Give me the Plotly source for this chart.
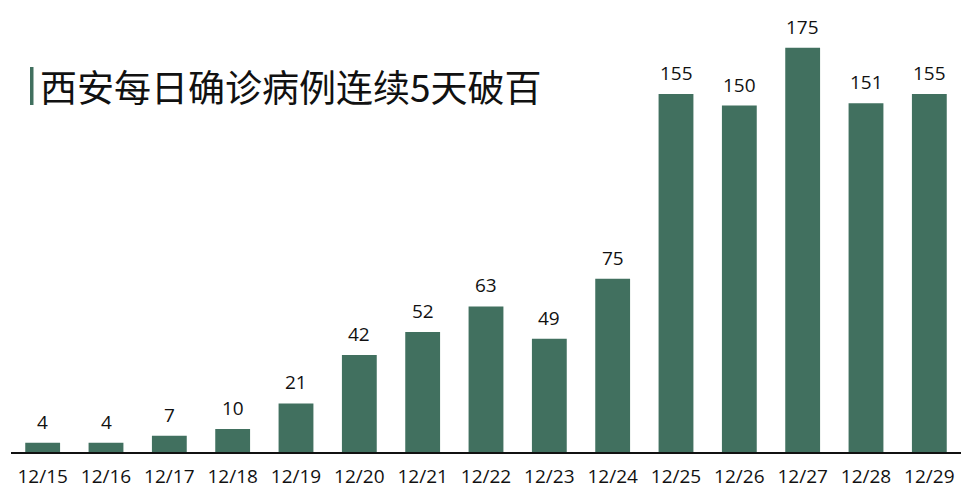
import plotly.graph_objects as go

dates = ["12/15", "12/16", "12/17", "12/18", "12/19", "12/20", "12/21", "12/22",
         "12/23", "12/24", "12/25", "12/26", "12/27", "12/28", "12/29"]
cases = [4, 4, 7, 10, 21, 42, 52, 63, 49, 75, 155, 150, 175, 151, 155]
title_text = "西安每日确诊病例连续5天破百"

bar_color = "#41705f"

# page body has an 8px margin, so the figure is drawn a bit smaller
W, H = 963, 492
ML, MR, MT, MB = 3, 10, 0, 48
PW, PH = W - ML - MR, H - MT - MB

fig = go.Figure()
fig.add_trace(go.Bar(x=dates, y=cases, marker_color=bar_color, marker_line_width=0))

# value labels above each bar
for d, v in zip(dates, cases):
    fig.add_annotation(x=d, y=v, text=str(v), showarrow=False, yanchor="bottom",
                       yshift=6, font=dict(family="Open Sans", size=19, color="#111"))

# title with green marker (page coords converted to paper coords)
def px_x(x):
    return (x - 8 - ML) / PW

def px_y(y):
    return (H - MB - (y - 8)) / PH

fig.add_shape(type="rect", xref="paper", yref="paper", x0=px_x(30), x1=px_x(33.5),
              y0=px_y(105), y1=px_y(67), fillcolor=bar_color, line_width=0)
fig.add_annotation(xref="paper", yref="paper", x=px_x(38), y=px_y(86),
                   xanchor="left", yanchor="middle", showarrow=False, text=title_text,
                   font=dict(family="Noto Sans CJK SC", size=37, color="#111"))

fig.update_layout(
    width=W, height=H,
    margin=dict(l=ML, r=MR, t=MT, b=MB),
    plot_bgcolor="white", paper_bgcolor="white",
    bargap=0.45, showlegend=False,
    xaxis=dict(showline=True, linecolor="#111", linewidth=2, ticks="", ticklabelstandoff=6,
               tickfont=dict(family="Open Sans", size=19, color="#111")),
    yaxis=dict(range=[0, PH / 2.31], visible=False, showgrid=False),
)

fig.write_html("out.html")
